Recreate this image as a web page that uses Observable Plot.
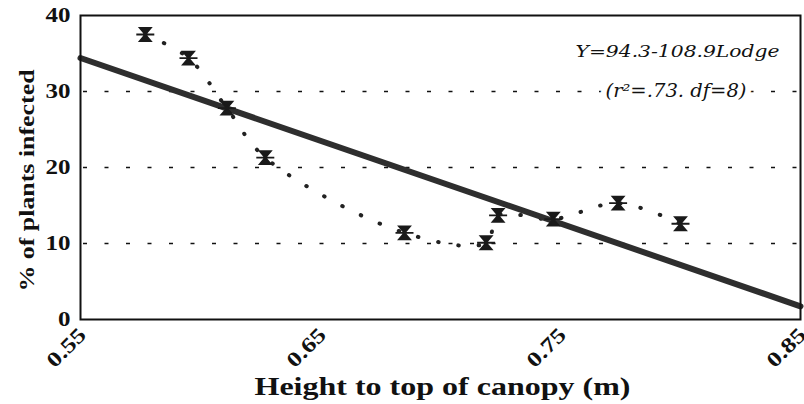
<!DOCTYPE html>
<html>
<head>
<meta charset="utf-8">
<script src="https://cdn.jsdelivr.net/npm/d3@7"></script>
<script src="https://cdn.jsdelivr.net/npm/@observablehq/plot@0.6"></script>
<style>
  html, body { margin: 0; padding: 0; background: #fff; }
</style>
</head>
<body>
<div id="chart"></div>
<script>
// Data
const heights  = [0.577, 0.595, 0.611, 0.627, 0.685, 0.719, 0.724, 0.747, 0.774, 0.800];
const infected = [37.5, 34.4, 27.8, 21.3, 11.4, 10.1, 13.7, 13.2, 15.3, 12.6];
const fitIntercept = 94.3;
const fitSlope = -108.9;
const fitRange = [0.55, 0.85];
const yTicks = [0, 10, 20, 30, 40];
const xTicks = [0.55, 0.65, 0.75, 0.85];
const gridLevels = [10, 20, 30];
const xLabel = "Height to top of canopy (m)";
const yLabel = "% of plants infected";
const eqLine1 = "Y=94.3-108.9Lodge";
const eqLine2 = "(r\u00b2=.73. df=8)";

const points = heights.map((h, i) => ({h, p: infected[i]}));
const fit = fitRange.map(h => ({h, p: fitIntercept + fitSlope * h}));

const hourglass = {
  draw(ctx, size) {
    const w = 5.5, t = 6.5, b = 9;
    ctx.moveTo(-w, -t); ctx.lineTo(w, -t); ctx.lineTo(-w, t); ctx.lineTo(w, t); ctx.closePath();
    ctx.moveTo(-b, 0); ctx.lineTo(b, 0);
  }
};

const serif = "'Liberation Serif', 'Times New Roman', serif";
const italicFont = "'DejaVu Serif', serif";

const chart = Plot.plot({
  width: 804,
  height: 404,
  marginLeft: 80,
  marginRight: 4,
  marginTop: 15,
  marginBottom: 85,
  style: {fontFamily: serif, background: "#fff", color: "#111"},
  x: {domain: [0.55, 0.85], axis: null},
  y: {domain: [0, 40], axis: null},
  marks: [
    Plot.ruleY(gridLevels, {stroke: "#111", strokeWidth: 1.6, strokeDasharray: "4,17.5", strokeDashoffset: -3}),
    Plot.line(points, {x: "h", y: "p", curve: "catmull-rom", stroke: "#222", strokeWidth: 4, strokeLinecap: "round", strokeDasharray: "0.5,20"}),
    Plot.line(fit, {x: "h", y: "p", stroke: "#2e2e2e", strokeWidth: 6}),
    Plot.dot(points, {x: "h", y: "p", symbol: hourglass, fill: "#1a1a1a", stroke: "#1a1a1a", strokeWidth: 1.8}),
    Plot.text([eqLine1], {frameAnchor: "top-right", textAnchor: "end", lineAnchor: "middle", dx: -21, dy: 36, text: d => d, fontFamily: italicFont, fontStyle: "italic", fontSize: 17, fill: "#111", stroke: "white", strokeWidth: 6}),
    Plot.text([eqLine2], {frameAnchor: "top-right", textAnchor: "end", lineAnchor: "middle", dx: -54, dy: 76, text: d => d, fontFamily: italicFont, fontStyle: "italic", fontSize: 18, fill: "#111", stroke: "white", strokeWidth: 11}),
    // y tick labels
    Plot.text(yTicks, {y: d => d, frameAnchor: "left", textAnchor: "end", lineAnchor: "middle", dx: -10, text: d => String(d), fontSize: 20, fontWeight: "bold", fill: "#111"}),
    // x tick labels
    Plot.text(xTicks, {x: d => d, frameAnchor: "bottom", textAnchor: "end", lineAnchor: "middle", rotate: -45, dx: 2, dy: 12, text: d => d.toFixed(2), fontSize: 21, fontWeight: "bold", fill: "#111"}),
    // axis titles
    Plot.text([xLabel], {frameAnchor: "bottom", textAnchor: "middle", lineAnchor: "middle", dx: 2, dy: 67, text: d => d, fontSize: 26, fontWeight: "bold", fill: "#111"}),
    Plot.text([yLabel], {frameAnchor: "left", textAnchor: "middle", lineAnchor: "middle", rotate: -90, dx: -53, dy: 13, text: d => d, fontSize: 21, fontWeight: "bold", fill: "#111"}),
    Plot.frame({stroke: "#111", strokeWidth: 2})
  ]
});
document.getElementById("chart").appendChild(chart);

// Widen the glyphs a little, as in the (horizontally wide) reference lettering
const targets = new Map([[xLabel, 376], [yLabel, 222], [eqLine1, 204], [eqLine2, 141]]);
const tickTexts = new Set([...yTicks.map(String), ...xTicks.map(d => d.toFixed(2))]);
d3.select(chart).selectAll("text").each(function() {
  const s = this.textContent;
  if (targets.has(s)) {
    d3.select(this).attr("textLength", targets.get(s)).attr("lengthAdjust", "spacingAndGlyphs");
  } else if (tickTexts.has(s)) {
    const len = this.getComputedTextLength();
    d3.select(this).attr("textLength", len * 1.25).attr("lengthAdjust", "spacingAndGlyphs");
  }
});
</script>
</body>
</html>
